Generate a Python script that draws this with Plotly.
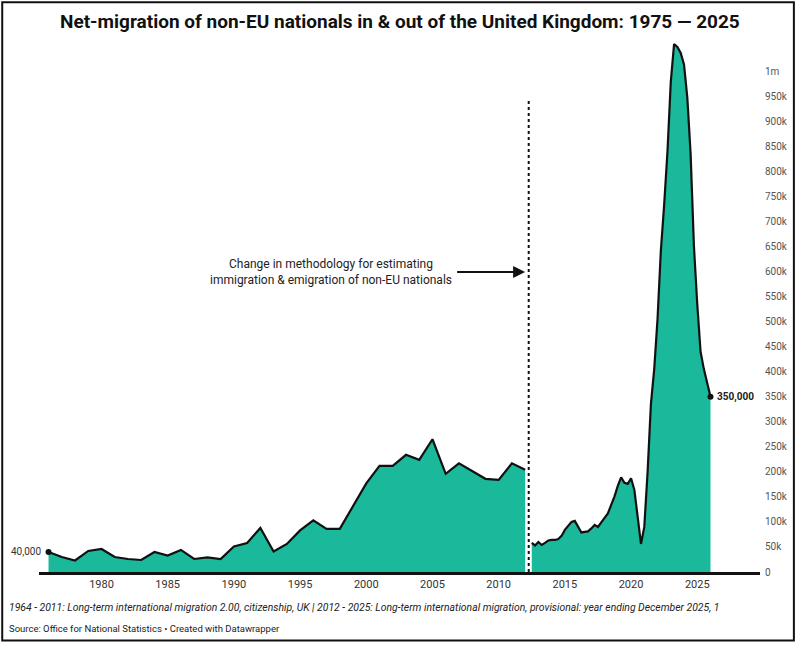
import plotly.graph_objects as go

# ---- data ----
years_old = list(range(1976, 2013))
net_old = [40, 30, 23, 42, 46, 30, 26, 24, 40, 33, 44, 26, 29, 26, 51, 58, 88, 41, 56, 83,
           103, 86, 86, 131, 177, 212, 212, 234, 224, 265, 196, 217, 202, 186, 184, 217, 204]

years_new = [2012.5, 2012.75, 2013.0, 2013.25, 2013.5, 2013.75, 2014.0, 2014.25, 2014.5, 2014.75,
             2015.0, 2015.25, 2015.5, 2015.75, 2016.0, 2016.25, 2016.5, 2016.75, 2017.0, 2017.25,
             2017.5, 2017.75, 2018.0, 2018.25, 2018.5, 2018.75, 2019.0, 2019.25, 2019.5, 2019.75,
             2020.0, 2020.25, 2020.5, 2020.75, 2021.0, 2021.25, 2021.5, 2021.75, 2022.0, 2022.25,
             2022.5, 2022.75, 2023.0, 2023.25, 2023.5, 2023.75, 2024.0, 2024.25, 2024.5, 2024.75,
             2025.0, 2025.25, 2025.5, 2025.75, 2026.0]
net_new = [58, 53, 60, 54, 58, 63, 64, 64, 66, 72,
           84, 93, 100, 102, 90, 79, 80, 81, 87, 94,
           90, 100, 108, 117, 133, 151, 172, 189, 178, 176,
           187, 164, 110, 56, 90, 200, 335, 405, 505, 641,
           733, 839, 978, 1054, 1048, 1036, 1013, 947, 834, 650,
           535, 440, 405, 375, 350]

x_ticks = [1980, 1985, 1990, 1995, 2000, 2005, 2010, 2015, 2020, 2025]
y_tickvals = [0, 50, 100, 150, 200, 250, 300, 350, 400, 450, 500,
              550, 600, 650, 700, 750, 800, 850, 900, 950, 1000]
y_ticktext = ["0", "50k", "100k", "150k", "200k", "250k", "300k", "350k", "400k", "450k", "500k",
              "550k", "600k", "650k", "700k", "750k", "800k", "850k", "900k", "950k", "1m"]

title_text = "Net-migration of non-EU nationals in &amp; out of the United Kingdom: 1975 — 2025"
note_text = ("1964 - 2011: Long-term international migration 2.00, citizenship, UK | 2012 - 2025: "
             "Long-term international migration, provisional: year ending December 2025, 1")
source_text = "Source: Office for National Statistics • Created with Datawrapper"
method_text = "Change in methodology for estimating<br>immigration &amp; emigration of non-EU nationals"

FILL = "#1bb99b"
v_old = [v * 1000 for v in net_old]
v_new = [v * 1000 for v in net_new]

fig = go.Figure()
for xs, ys in [(years_old, v_old), (years_new, v_new)]:
    fig.add_trace(go.Scatter(x=xs, y=ys, mode="lines", fill="tozeroy", fillcolor=FILL,
                             line=dict(color="#111111", width=2.2), hoverinfo="skip",
                             showlegend=False))
# end dots
fig.add_trace(go.Scatter(x=[years_old[0], years_new[-1]], y=[v_old[0], v_new[-1]], mode="markers",
                         marker=dict(color="#111111", size=6), showlegend=False, hoverinfo="skip"))

fig.update_layout(
    width=800, height=645,
    margin=dict(l=39, r=37, t=41, b=73),
    paper_bgcolor="white", plot_bgcolor="white",
    font=dict(family="Roboto, sans-serif", color="#222"),
    xaxis=dict(range=[1975.28, 2029.74], tickvals=x_ticks, showgrid=False, zeroline=False,
               showline=True, linecolor="#111111", linewidth=3, ticks="",
               tickfont=dict(size=11, color="#333"), fixedrange=True),
    yaxis=dict(range=[0, 1060000], side="right", tickvals=[v * 1000 for v in y_tickvals],
               ticktext=y_ticktext, showgrid=False, zeroline=False, ticks="",
               tickfont=dict(size=10, color="#555"), ticklabelstandoff=4),
)

# dotted methodology line
fig.add_shape(type="line", x0=2012.27, x1=2012.27, y0=0, y1=940000, xref="x", yref="y",
              line=dict(color="#111111", width=2, dash="dot"))

# text annotations
fig.add_annotation(x=1997.3, y=598000, xref="x", yref="y", text=method_text, showarrow=False,
                   font=dict(size=12, color="#222"), align="center")
fig.add_annotation(x=2012.0, y=599000, ax=2006.75, ay=599000, xref="x", yref="y",
                   axref="x", ayref="y", text="", showarrow=True, arrowhead=2, arrowsize=1.2,
                   arrowwidth=2, arrowcolor="#111111")
fig.add_annotation(x=years_old[0], y=v_old[0], text="40,000", showarrow=False, xanchor="right",
                   xshift=-6, font=dict(size=10, color="#333"))
fig.add_annotation(x=years_new[-1], y=v_new[-1], text="<b>350,000</b>", showarrow=False,
                   xanchor="left", xshift=5, font=dict(size=10, color="#222"))

# title and footer (paper coordinates)
fig.add_annotation(x=0.5, y=1.036, xref="paper", yref="paper", xanchor="center", yanchor="middle",
                   text="<b>" + title_text + "</b>", showarrow=False,
                   font=dict(size=19, family="Roboto, sans-serif", color="#111"))
fig.add_annotation(x=-0.044, y=-0.066, xref="paper", yref="paper", xanchor="left", yanchor="middle",
                   text="<i>" + note_text + "</i>", showarrow=False,
                   font=dict(size=10.4, color="#222"))
fig.add_annotation(x=-0.044, y=-0.106, xref="paper", yref="paper", xanchor="left", yanchor="middle",
                   text=source_text, showarrow=False, font=dict(size=9.5, color="#222"))

# outer frame
fig.add_shape(type="rect", xref="paper", yref="paper", x0=-0.051, x1=1.047, y0=-0.129, y1=1.073,
              line=dict(color="#111111", width=2))

fig.write_html("out.html")
